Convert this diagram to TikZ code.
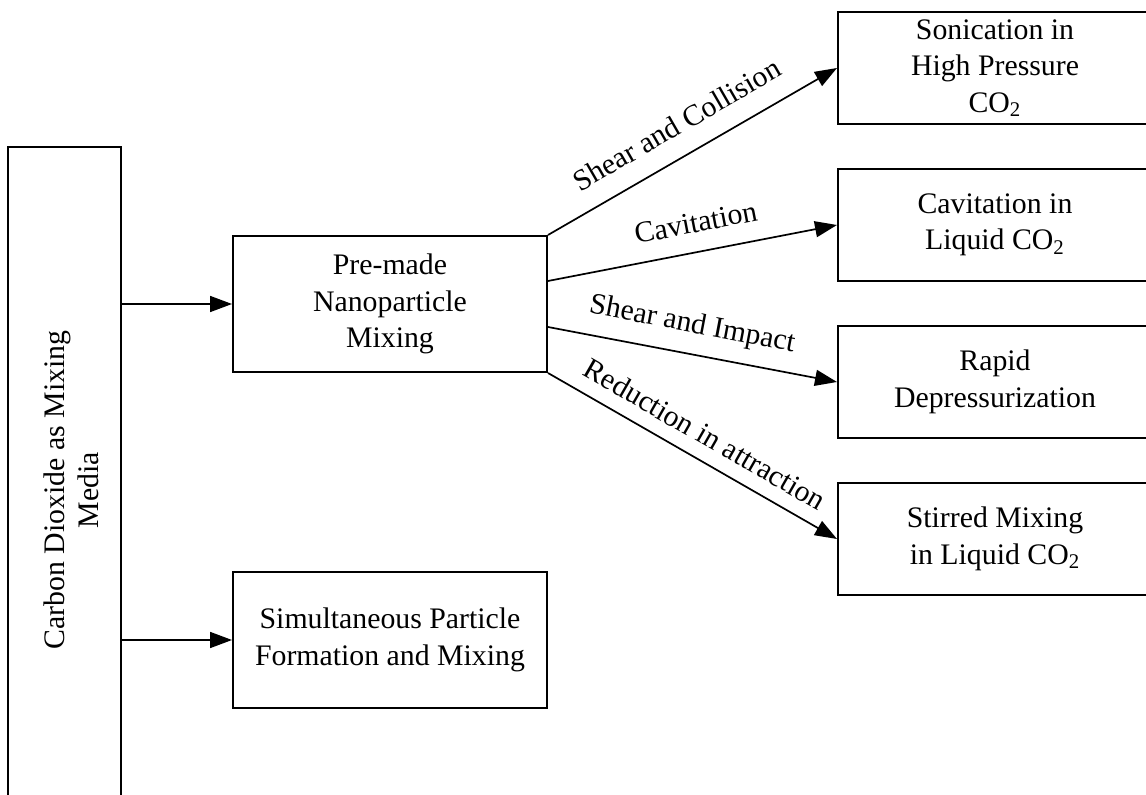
\documentclass[tikz,border=0pt]{standalone}
\usepackage{fontspec}
\setmainfont{Liberation Serif}
\usetikzlibrary{arrows.meta,calc}
\begin{document}
\begin{tikzpicture}[x=0.5pt,y=-0.5pt,
  txt/.style={font=\fontsize{14.9}{18.2}\selectfont},
  box/.style={draw, line width=1pt, align=center, txt, inner sep=0pt},
  rbox/.style={box, minimum width=157pt, minimum height=56pt},
  mbox/.style={box, minimum width=157pt, minimum height=68pt},
  conn/.style={line width=0.85pt, -{Triangle[length=11pt,width=8pt]}},
  lbl/.style={sloped, anchor=base, txt, inner sep=0pt}]
\useasboundingbox (0,0) rectangle (1146,795);
\clip (0,0) rectangle (1146,795);
% left tall box (extends beyond the bottom edge)
\node[box, minimum width=56.5pt, minimum height=343pt] (L) at (64.5,490) {};
\node[font=\fontsize{14.9}{17}\selectfont, rotate=90, align=center, inner sep=0pt] (Lt) at ($(L.center)+(7,0)$)
  {Carbon Dioxide as Mixing\\Media};
% middle boxes
\node[mbox] (P) at (390,304) {Pre-made\\Nanoparticle\\Mixing};
\node[mbox] (S) at (390,640) {Simultaneous Particle\\Formation and Mixing};
% right boxes (extend beyond the right edge)
\node[rbox] (R1) at (995,68)  {Sonication in\\High Pressure\\CO\textsubscript{2}};
\node[rbox] (R2) at (995,225) {Cavitation in\\Liquid CO\textsubscript{2}};
\node[rbox] (R3) at (995,382) {Rapid\\Depressurization};
\node[rbox] (R4) at (995,539) {Stirred Mixing\\in Liquid CO\textsubscript{2}};
% start points on the right side of P
\coordinate (p1) at ($(P.north east)!1/3!(P.south east)$);
\coordinate (p2) at ($(P.north east)!2/3!(P.south east)$);
% connectors
\draw[conn] (L.east |- P.west) -- (P.west);
\draw[conn] (L.east |- S.west) -- (S.west);
\draw[conn] (P.north east) -- node[lbl, pos=0.5, yshift=10.5pt] {Shear and Collision} (R1.west);
\draw[conn] (p1) -- node[lbl, pos=0.53, yshift=9.8pt] {Cavitation} (R2.west);
\draw[conn] (p2) -- node[lbl, pos=0.48, yshift=10.8pt] {Shear and Impact} (R3.west);
\draw[conn] (P.south east) -- node[lbl, pos=0.5, yshift=7.5pt] {Reduction in attraction} (R4.west);
\end{tikzpicture}
\end{document}
